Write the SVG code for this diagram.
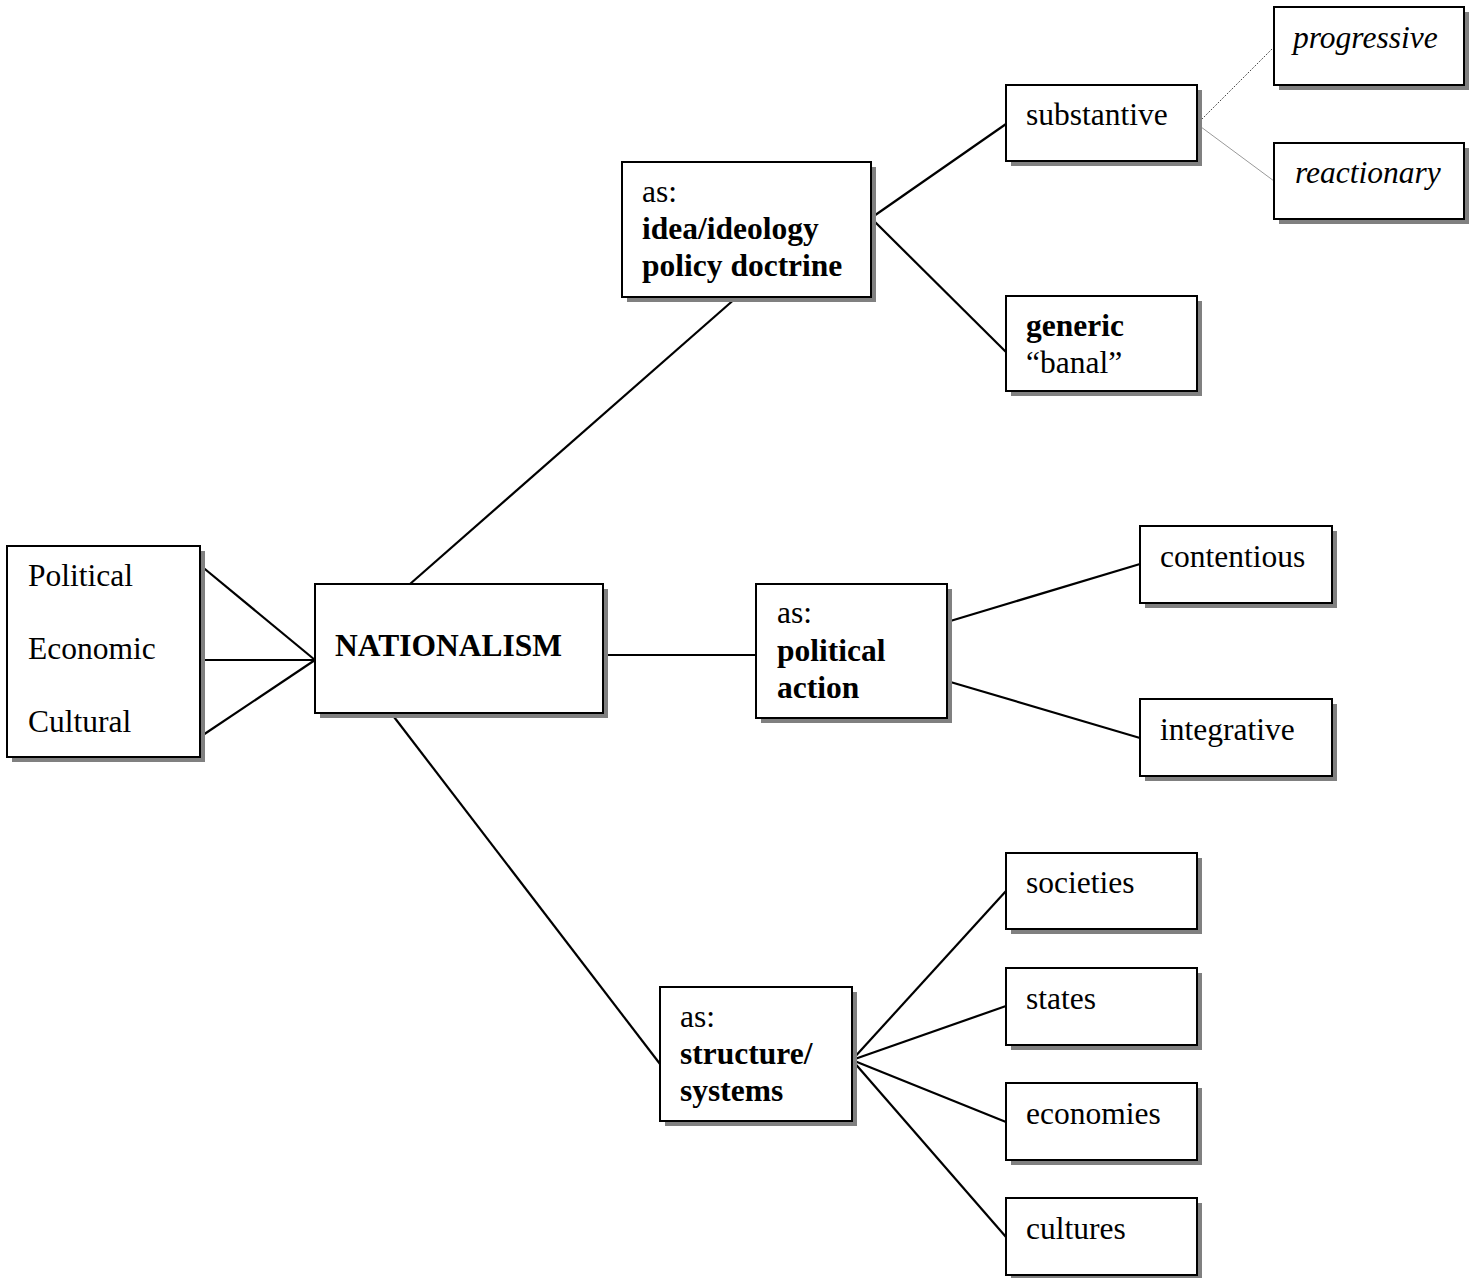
<svg xmlns="http://www.w3.org/2000/svg" width="1479" height="1279" viewBox="0 0 1479 1279">
<style>
.sh{fill:#808080}
.bx{fill:#fff;stroke:#000;stroke-width:2}
text{font-family:"Liberation Serif","Times New Roman",serif;font-size:31.5px;fill:#000}
.b{font-weight:bold}
.i{font-style:italic}
.ln{stroke:#000;stroke-width:2.2;fill:none}
</style>
<rect width="1479" height="1279" fill="#fff"/>
<g id="connectors">
<line class="ln" x1="200" y1="565" x2="315" y2="660"/>
<line class="ln" x1="200" y1="660" x2="315" y2="660"/>
<line class="ln" x1="200" y1="737" x2="315" y2="660"/>
<line class="ln" x1="410" y1="584" x2="737" y2="297"/>
<line class="ln" x1="603" y1="655" x2="756" y2="655"/>
<line class="ln" x1="391" y1="713" x2="660" y2="1064"/>
<line class="ln" x1="871" y1="218" x2="1006" y2="124"/>
<line class="ln" x1="871" y1="218" x2="1006" y2="352"/>
<line x1="1197" y1="124" x2="1274" y2="47" stroke="#000" stroke-width="1" stroke-dasharray="1,1.5"/>
<line x1="1197" y1="124" x2="1274" y2="181" stroke="#999" stroke-width="1"/>
<line class="ln" x1="947" y1="622" x2="1140" y2="564"/>
<line class="ln" x1="947" y1="681" x2="1140" y2="738"/>
<line class="ln" x1="852" y1="1060" x2="1006" y2="891"/>
<line class="ln" x1="852" y1="1060" x2="1006" y2="1006"/>
<line class="ln" x1="852" y1="1060" x2="1006" y2="1122"/>
<line class="ln" x1="852" y1="1060" x2="1006" y2="1237"/>
</g>
<g id="dimensions">
<rect class="sh" x="12" y="551" width="193" height="211"/>
<rect class="bx" x="7" y="546" width="193" height="211"/>
<text x="28" y="586">Political</text>
<text x="28" y="659">Economic</text>
<text x="28" y="732">Cultural</text>
</g>
<g id="nationalism">
<rect class="sh" x="320" y="589" width="288" height="129"/>
<rect class="bx" x="315" y="584" width="288" height="129"/>
<text class="b" x="335" y="656">NATIONALISM</text>
</g>
<g id="idea">
<rect class="sh" x="627" y="167" width="249" height="135"/>
<rect class="bx" x="622" y="162" width="249" height="135"/>
<text x="642" y="202">as:</text>
<text class="b" x="642" y="239">idea/ideology</text>
<text class="b" x="642" y="276">policy doctrine</text>
</g>
<g id="substantive">
<rect class="sh" x="1011" y="90" width="191" height="76"/>
<rect class="bx" x="1006" y="85" width="191" height="76"/>
<text x="1026" y="125">substantive</text>
</g>
<g id="progressive">
<rect class="sh" x="1279" y="12" width="190" height="78"/>
<rect class="bx" x="1274" y="7" width="190" height="78"/>
<text class="i" x="1293" y="48">progressive</text>
</g>
<g id="reactionary">
<rect class="sh" x="1279" y="148" width="190" height="76"/>
<rect class="bx" x="1274" y="143" width="190" height="76"/>
<text class="i" x="1295" y="183">reactionary</text>
</g>
<g id="generic">
<rect class="sh" x="1011" y="301" width="191" height="95"/>
<rect class="bx" x="1006" y="296" width="191" height="95"/>
<text class="b" x="1026" y="336">generic</text>
<text x="1026" y="373">“banal”</text>
</g>
<g id="political-action">
<rect class="sh" x="761" y="589" width="191" height="134"/>
<rect class="bx" x="756" y="584" width="191" height="134"/>
<text x="777" y="623">as:</text>
<text class="b" x="777" y="661">political</text>
<text class="b" x="777" y="698">action</text>
</g>
<g id="contentious">
<rect class="sh" x="1145" y="531" width="192" height="77"/>
<rect class="bx" x="1140" y="526" width="192" height="77"/>
<text x="1160" y="567">contentious</text>
</g>
<g id="integrative">
<rect class="sh" x="1145" y="704" width="192" height="77"/>
<rect class="bx" x="1140" y="699" width="192" height="77"/>
<text x="1160" y="740">integrative</text>
</g>
<g id="structure">
<rect class="sh" x="665" y="992" width="192" height="134"/>
<rect class="bx" x="660" y="987" width="192" height="134"/>
<text x="680" y="1027">as:</text>
<text class="b" x="680" y="1064">structure/</text>
<text class="b" x="680" y="1101">systems</text>
</g>
<g id="societies">
<rect class="sh" x="1011" y="858" width="191" height="76"/>
<rect class="bx" x="1006" y="853" width="191" height="76"/>
<text x="1026" y="893">societies</text>
</g>
<g id="states">
<rect class="sh" x="1011" y="973" width="191" height="77"/>
<rect class="bx" x="1006" y="968" width="191" height="77"/>
<text x="1026" y="1009">states</text>
</g>
<g id="economies">
<rect class="sh" x="1011" y="1088" width="191" height="77"/>
<rect class="bx" x="1006" y="1083" width="191" height="77"/>
<text x="1026" y="1124">economies</text>
</g>
<g id="cultures">
<rect class="sh" x="1011" y="1203" width="191" height="75"/>
<rect class="bx" x="1006" y="1198" width="191" height="77"/>
<text x="1026" y="1239">cultures</text>
</g>
</svg>
